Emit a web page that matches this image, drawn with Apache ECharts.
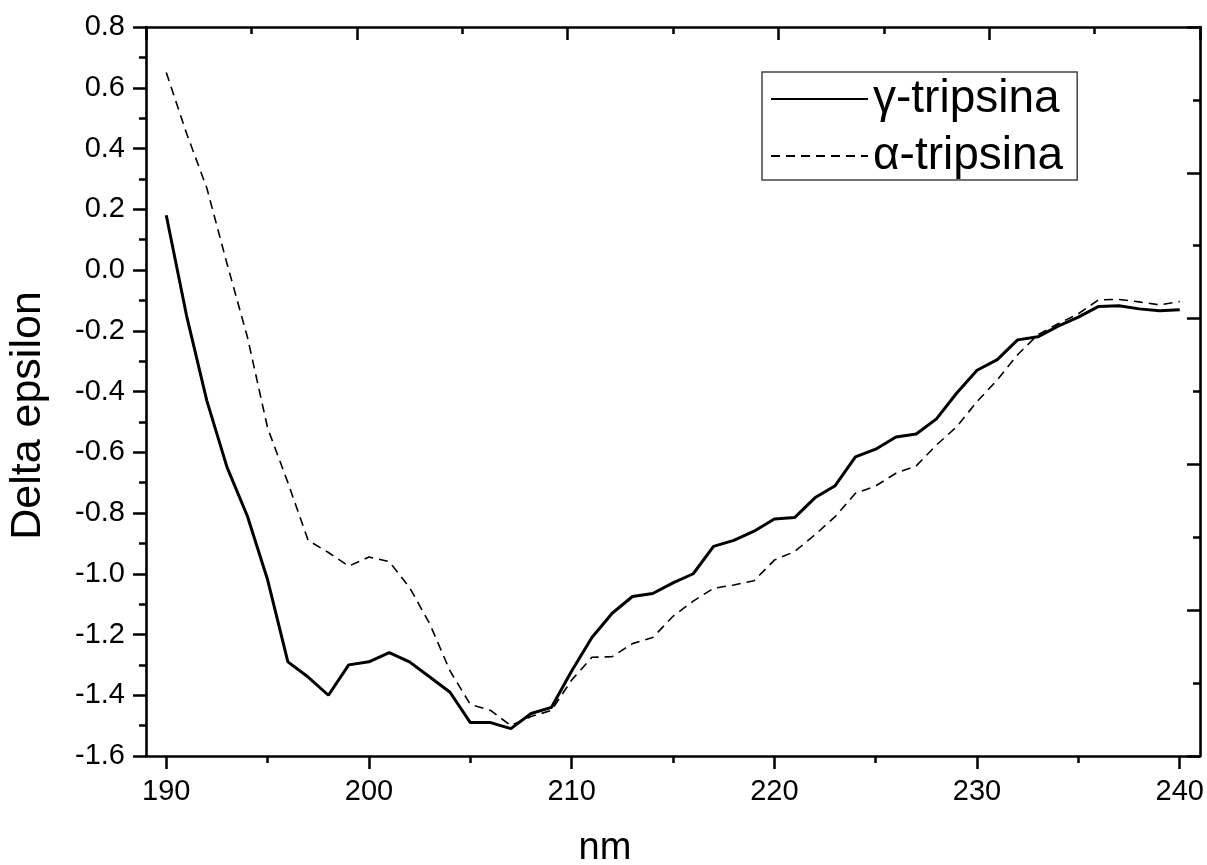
<!DOCTYPE html>
<html>
<head>
<meta charset="utf-8">
<script src="https://cdn.jsdelivr.net/npm/echarts@6/dist/echarts.min.js"></script>
<style>
html,body{margin:0;padding:0;background:#fff;}
#chart{width:1207px;height:865px;}
</style>
</head>
<body>
<div id="chart"></div>
<script>
// ---- data ----
const wavelengths = [190,191,192,193,194,195,196,197,198,199,200,201,202,203,204,205,206,207,208,209,210,211,212,213,214,215,216,217,218,219,220,221,222,223,224,225,226,227,228,229,230,231,232,233,234,235,236,237,238,239,240];
const gammaTripsina = [0.18,-0.15,-0.43,-0.65,-0.81,-1.02,-1.29,-1.34,-1.40,-1.30,-1.29,-1.26,-1.29,-1.34,-1.39,-1.49,-1.49,-1.51,-1.46,-1.44,-1.32,-1.21,-1.13,-1.075,-1.065,-1.03,-1.00,-0.91,-0.89,-0.86,-0.82,-0.815,-0.75,-0.71,-0.615,-0.59,-0.55,-0.54,-0.49,-0.405,-0.33,-0.295,-0.23,-0.22,-0.185,-0.155,-0.12,-0.118,-0.128,-0.134,-0.131];
const alphaTripsina = [0.65,0.45,0.27,0.02,-0.22,-0.52,-0.70,-0.89,-0.93,-0.975,-0.945,-0.96,-1.045,-1.165,-1.32,-1.43,-1.45,-1.50,-1.47,-1.45,-1.35,-1.275,-1.273,-1.23,-1.21,-1.14,-1.09,-1.048,-1.037,-1.023,-0.955,-0.927,-0.872,-0.812,-0.735,-0.711,-0.669,-0.645,-0.576,-0.516,-0.433,-0.362,-0.279,-0.213,-0.177,-0.144,-0.098,-0.097,-0.105,-0.115,-0.104];
const xMajorTicks = [190,200,210,220,230,240];
const xMinorTicks = [195,205,215,225,235];
const seriesNames = ['\u03b3-tripsina','\u03b1-tripsina'];
const xTitle = 'nm';
const yTitle = 'Delta epsilon';

const FONT = '"Liberation Sans", Arial, Helvetica, sans-serif';
const chart = echarts.init(document.getElementById('chart'));
const axisLine = {show:true, onZero:false, lineStyle:{color:'#000', width:2.6}};
const tickStyle = {color:'#000', width:2.5};

chart.setOption({
  animation:false,
  backgroundColor:'#fff',
  grid:{left:146, right:7, top:27, bottom:109, containLabel:false, outerBoundsMode:'none'},
  legend:{
    orient:'vertical', left:762, top:72,
    data:seriesNames,
    itemWidth:97, itemHeight:20, itemGap:11,
    padding:[4,14,1,8],
    borderColor:'#444', borderWidth:1.5,
    itemStyle:{opacity:0, color:'rgba(0,0,0,0)', borderWidth:0},
    textStyle:{fontFamily:FONT, fontSize:46, color:'#000'}
  },
  xAxis:[
    {type:'value', min:189, max:241, position:'bottom',
     name:xTitle, nameLocation:'middle', nameGap:74,
     nameTextStyle:{fontFamily:FONT, fontSize:38, color:'#000', padding:[0,136,0,0]},
     axisLine:axisLine,
     axisTick:{show:true, inside:false, length:13, customValues:xMajorTicks, lineStyle:tickStyle},
     axisLabel:{show:true, customValues:xMajorTicks, margin:21, fontFamily:FONT, fontSize:29, color:'#000'},
     splitLine:{show:false}},
    {type:'value', min:0, max:10, interval:2, position:'top',
     axisLine:axisLine,
     axisTick:{show:true, inside:true, length:13, lineStyle:tickStyle},
     minorTick:{show:true, splitNumber:2, length:7, lineStyle:tickStyle},
     axisLabel:{show:false}, splitLine:{show:false}},
    {type:'value', min:189, max:241, position:'bottom',
     axisLine:{show:false, onZero:false},
     axisTick:{show:true, inside:false, length:7, customValues:xMinorTicks, lineStyle:tickStyle},
     axisLabel:{show:false}, splitLine:{show:false}}
  ],
  yAxis:[
    {type:'value', min:-1.6, max:0.8, interval:0.2, position:'left',
     name:yTitle, nameLocation:'middle', nameGap:96,
     nameTextStyle:{fontFamily:FONT, fontSize:43, color:'#000', padding:[0,48,0,0]},
     axisLine:axisLine,
     axisTick:{show:true, inside:false, length:13, lineStyle:tickStyle},
     minorTick:{show:true, splitNumber:2, length:7, lineStyle:tickStyle},
     axisLabel:{margin:21, fontFamily:FONT, fontSize:29, color:'#000', formatter:v=>v.toFixed(1)},
     splitLine:{show:false}},
    {type:'value', min:0, max:10, interval:2, position:'right',
     axisLine:axisLine,
     axisTick:{show:true, inside:true, length:13, lineStyle:tickStyle},
     minorTick:{show:true, splitNumber:2, length:7, lineStyle:tickStyle},
     axisLabel:{show:false}, splitLine:{show:false}}
  ],
  series:[
    {name:seriesNames[0], type:'line', xAxisIndex:0, yAxisIndex:0, symbol:'none',
     data:wavelengths.map((x,i)=>[x, gammaTripsina[i]]),
     lineStyle:{color:'#000', width:3, type:'solid'}, itemStyle:{color:'#000'}},
    {name:seriesNames[1], type:'line', xAxisIndex:0, yAxisIndex:0, symbol:'none',
     data:wavelengths.map((x,i)=>[x, alphaTripsina[i]]),
     lineStyle:{color:'#000', width:1.6, type:[9,6]}, itemStyle:{color:'#000'}}
  ]
});
</script>
</body>
</html>
